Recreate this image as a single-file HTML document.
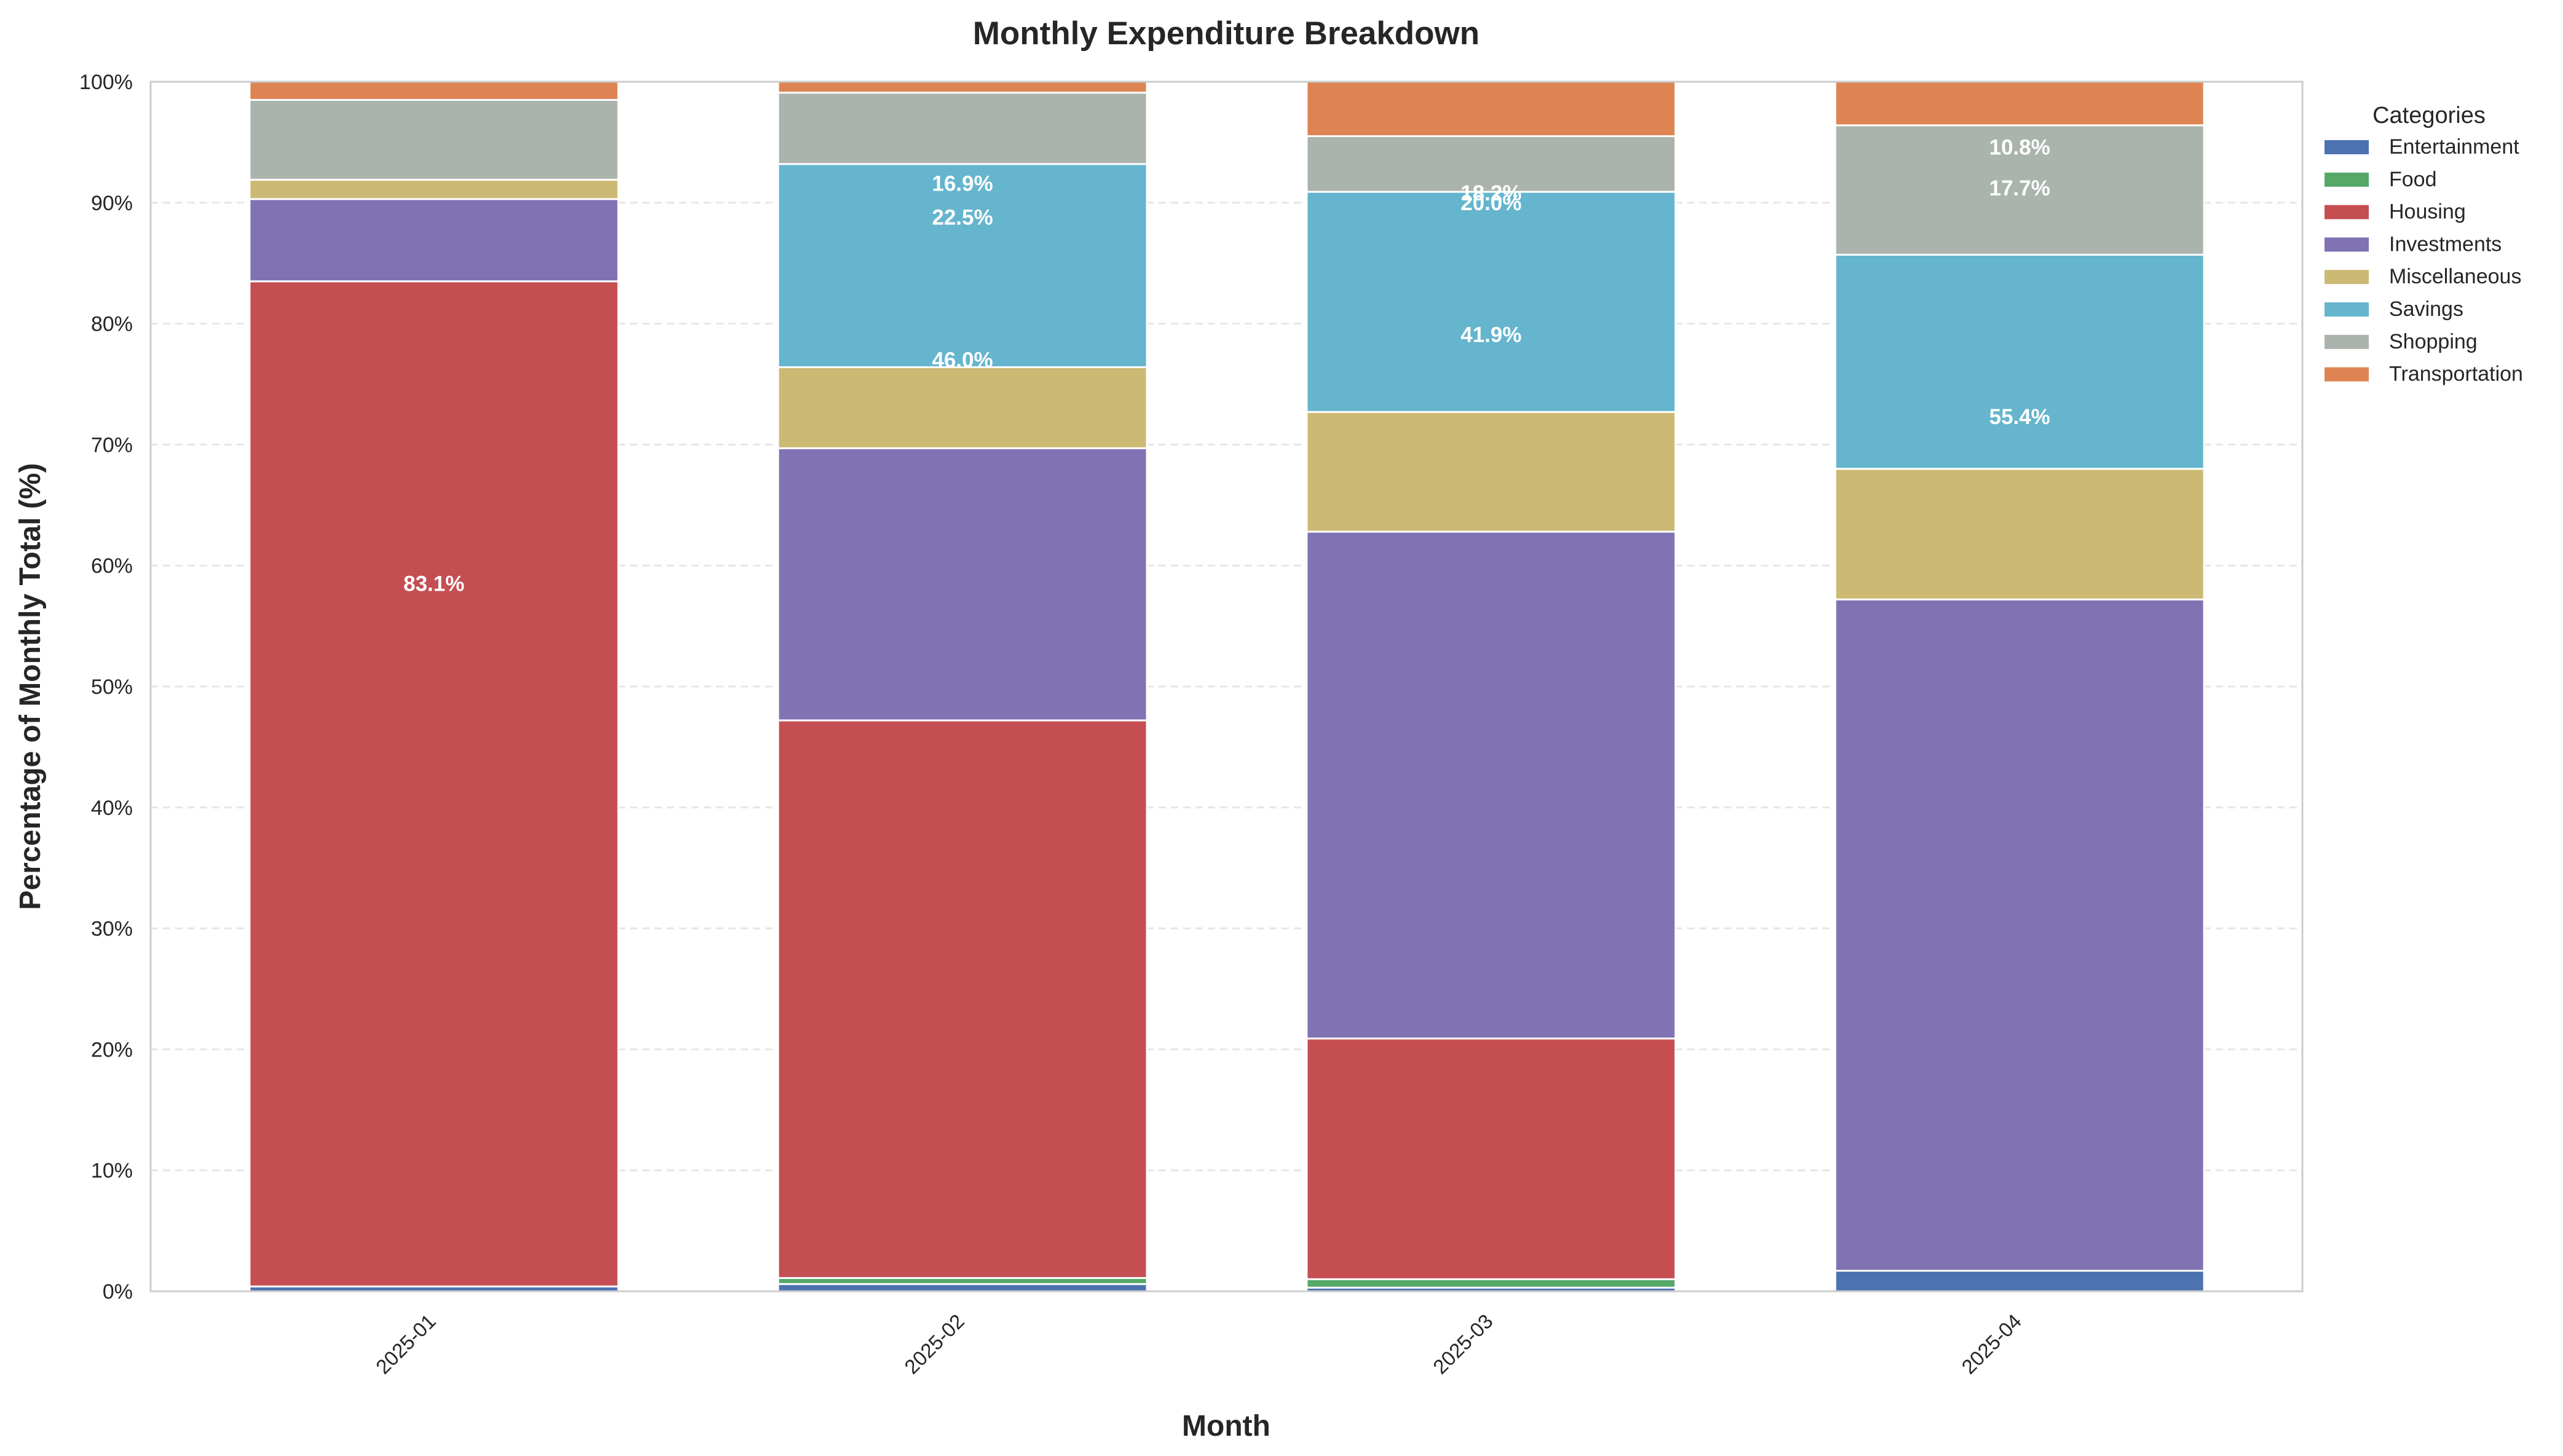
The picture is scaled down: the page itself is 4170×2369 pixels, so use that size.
<!DOCTYPE html>
<html><head><meta charset="utf-8"><style>
html,body{margin:0;padding:0;background:#fff;}
svg{display:block;font-family:"Liberation Sans",Arial,sans-serif;}
</style></head><body>
<svg id="chart" width="4170" height="2369" viewBox="0 0 4170 2369" xmlns="http://www.w3.org/2000/svg">
<rect width="4170" height="2369" fill="#ffffff"/>
<text x="1995" y="72" text-anchor="middle" font-size="53" font-weight="bold" fill="#262626">Monthly Expenditure Breakdown</text>
<g id="grid"></g>
<g id="bars"></g>
<g id="labels"></g>
<rect x="245" y="133" width="3501" height="1968" fill="none" stroke="#cccccc" stroke-width="3"/>
<g id="yticks"></g>
<g id="xticks"></g>
<text transform="translate(65,1117) rotate(-90)" text-anchor="middle" font-size="48" font-weight="bold" fill="#262626">Percentage of Monthly Total (%)</text>
<text x="1995" y="2336" text-anchor="middle" font-size="48" font-weight="bold" fill="#262626">Month</text>
<g id="legend"></g>
</svg>
<script>
const months = ["2025-01","2025-02","2025-03","2025-04"];
const categories = ["Entertainment","Food","Housing","Investments","Miscellaneous","Savings","Shopping","Transportation"];
const colors = ["#4c72b0","#55a868","#c44e52","#8172b3","#ccb974","#64b5cd","#abb3ad","#dd8452"];
const entertainment = [0.4,0.6,0.3,1.7];
const food = [0,0.5,0.7,0];
const housing = [83.1,46.1,19.9,0];
const investments = [6.8,22.5,41.9,55.5];
const miscellaneous = [1.6,6.7,9.9,10.8];
const savings = [0,16.8,18.2,17.7];
const shopping = [6.6,5.9,4.6,10.7];
const transportation = [1.5,0.9,4.5,3.6];
const yTicks = [0,10,20,30,40,50,60,70,80,90,100];
const labelMonth = [0,1,1,1,2,2,2,3,3,3];
const labelText = ["83.1%","46.0%","22.5%","16.9%","41.9%","20.0%","18.2%","55.4%","17.7%","10.8%"];
const labelPos = [58.5,77.0,88.8,91.6,79.1,90.0,90.8,72.3,91.2,94.6];

const NS="http://www.w3.org/2000/svg";
const series=[entertainment,food,housing,investments,miscellaneous,savings,shopping,transportation];
const plotL=245, plotR=3746, plotT=133, plotB=2101;
const firstC=706, slot=860, barW=600;
function xC(i){return firstC+slot*i;}
function yS(v){return plotB-(v/100)*(plotB-plotT);}
function mk(tag,attrs,parent){const e=document.createElementNS(NS,tag);for(const k in attrs)e.setAttribute(k,attrs[k]);parent.appendChild(e);return e;}
const grid=document.getElementById('grid'),yt=document.getElementById('yticks');
yTicks.forEach(t=>{
  const y=yS(t);
  if(t>0&&t<100){const l=mk('line',{x1:plotL,x2:plotR,y1:y,y2:y,stroke:'#e6e6e6','stroke-width':3,'stroke-dasharray':'12,8'},grid);
  
  }
  const tx=mk('text',{x:216,y:y+12,'text-anchor':'end','font-size':34,fill:'#262626'},yt);
  tx.textContent=t+'%';
  
  
});
const bars=document.getElementById('bars'),xt=document.getElementById('xticks');
months.forEach((m,i)=>{
  let cum=0;
  series.forEach((s,c)=>{
    const v=s[i]; if(v<=0) return;
    const y0=yS(cum), y1=yS(cum+v); cum+=v;
    const r=mk('rect',{x:xC(i)-barW/2,y:y1,width:barW,height:y0-y1,fill:colors[c],stroke:'#ffffff','stroke-width':3},bars);
    
    
  });
  const x=xC(i)+5,y=2152;
  const tx=mk('text',{x:x,y:y,'text-anchor':'end','font-size':33,fill:'#262626',transform:'rotate(-45 '+x+' '+y+')'},xt);
  tx.textContent=m;
  
  
});
const lab=document.getElementById('labels');
labelText.forEach((t,k)=>{
  const tx=mk('text',{x:xC(labelMonth[k]),y:yS(labelPos[k])+12,'text-anchor':'middle','font-size':35,'font-weight':'bold',fill:'#ffffff'},lab);
  tx.textContent=t;
  
  
});
const lg=document.getElementById('legend');
const lt=mk('text',{x:3952,y:200,'text-anchor':'middle','font-size':38,fill:'#262626'},lg);
lt.textContent='Categories';


categories.forEach((c,k)=>{
  const y=228+k*52.8;
  const sw=mk('rect',{x:3782,y:y,width:72,height:23,fill:colors[k]},lg);
  
  
  const t=mk('text',{x:3887,y:y+22,'font-size':34,fill:'#262626'},lg);
  t.textContent=c;
  
  
});
</script>
</body></html>
